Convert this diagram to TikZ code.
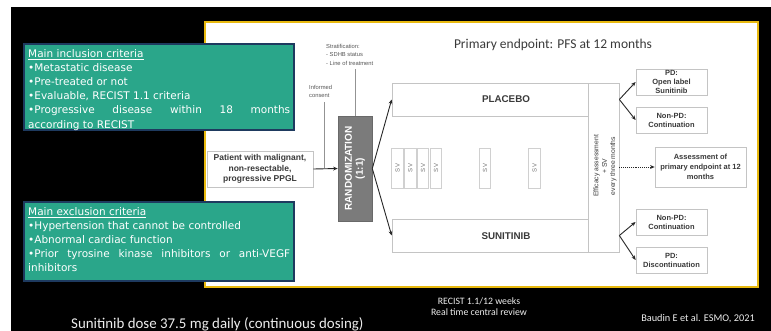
\documentclass[tikz,border=0pt]{standalone}
\usepackage{fontspec}
\setmainfont{Liberation Sans}
\newfontfamily\slidefont{Carlito}
\newfontfamily\critfont{DejaVu Sans}
\usetikzlibrary{arrows.meta}

\definecolor{critgreen}{HTML}{2AA68A}
\definecolor{critedge}{HTML}{1E3A5F}
\definecolor{frameyellow}{HTML}{E8B90F}
\definecolor{ink}{HTML}{3A3A3A}
\definecolor{boxline}{HTML}{C4C4C4}
\definecolor{randgray}{HTML}{7B7B7B}
\definecolor{slidewhite}{HTML}{EDEDED}

\tikzset{
  critbox/.style={draw=critedge, line width=1.6pt, fill=critgreen, anchor=north west, inner sep=0},
  crittext/.style={text=white, anchor=north west, inner sep=0, text width=262pt, align=justify,
                   font=\critfont\fontsize{10.5}{14.2}\selectfont},
  armbox/.style={draw=boxline, line width=0.7pt, inner sep=0},
  armlabel/.style={text=ink, font=\bfseries\fontsize{9.8}{11}\selectfont},
  outbox/.style={draw=boxline, line width=0.8pt, inner sep=0, align=center, text=ink,
                 font=\bfseries\fontsize{7.5}{9}\selectfont},
  svbox/.style={draw=boxline!80, line width=0.6pt, minimum width=11.5pt, minimum height=40pt, inner sep=0},
  svlabel/.style={rotate=90, text=ink!70, font=\fontsize{6}{7}\selectfont},
  smallnote/.style={anchor=north west, inner sep=0, align=left, text=ink!85,
                    font=\fontsize{5.8}{8.5}\selectfont},
  conn/.style={draw=black!85, line width=0.9pt, -{Stealth[length=4.5pt,width=3.8pt]}},
  thinline/.style={draw=ink!55, line width=0.6pt},
  caption/.style={text=slidewhite, inner sep=0}
}

\begin{document}
\begin{tikzpicture}[x=1pt, y=-1pt]
\useasboundingbox (0,0) rectangle (771,331);
% slide background
\fill[white] (0,0) rectangle (771,331);
\fill[black] (11,7) rectangle (771,331);
% framed panel holding the trial scheme
\draw[frameyellow, line width=2.2pt, fill=white] (205,22) rectangle (758,287);

\node[text=ink, font=\slidefont\fontsize{13.5}{16}\selectfont] (title) at (553,45)
  {Primary endpoint: PFS at 12 months};

% criteria boxes
\node[critbox, minimum width=270pt, minimum height=86pt] (incl) at (23,43) {};
\node[crittext] (incltext) at (28,49) {%
  \underline{Main inclusion criteria}\\
  •Metastatic disease\\
  •Pre-treated or not\\
  •Evaluable, RECIST 1.1 criteria\\
  •Progressive disease within 18 months\linebreak
  according to RECIST};

\node[critbox, minimum width=270pt, minimum height=79pt] (excl) at (23,201) {};
\node[crittext] (excltext) at (28,207) {%
  \underline{Main exclusion criteria}\\
  •Hypertension that cannot be controlled\\
  •Abnormal cardiac function\\
  •Prior tyrosine kinase inhibitors or anti-VEGF\linebreak
  inhibitors};

% enrolment and randomisation
\node[outbox, minimum width=106pt, minimum height=36pt, font=\bfseries\fontsize{8.5}{10.5}\selectfont]
  (patient) at (260,169) {Patient with malignant,\\non-resectable,\\progressive PPGL};
\node[fill=randgray, draw=randgray!85!black, line width=0.6pt, minimum width=34pt, minimum height=105pt, inner sep=0]
  (rand) at (355,168.5) {};
\node[rotate=90, text=white, align=center, inner sep=0, font=\bfseries\fontsize{10}{11}\selectfont]
  (randtxt) at (rand.center) {RANDOMIZATION\\(1:1)};

\node[smallnote] (strat) at (326,44) {Stratification:\\- SDHB status\\- Line of treatment};
\node[smallnote] (consent) at (309,85) {Informed\\consent};
\coordinate (join) at (324,168.5);

\draw[thinline] (rand.north) -- ([yshift=-3pt]rand.north |- strat.south);
\draw[thinline] ([yshift=-4pt]consent.south -| join) -- (join);
\draw[conn] (patient.east) -- (rand.west);

% treatment arms
\node[armbox, minimum width=196pt, minimum height=33pt] (placebo) at (490,99.5) {};
\node[armlabel] (placebotxt) at (506,99.5) {PLACEBO};
\node[armbox, minimum width=196pt, minimum height=33pt] (sunit) at (490,235.5) {};
\node[armlabel] (sunittxt) at (506,236) {SUNITINIB};
\node[armbox, minimum width=31pt, minimum height=169pt] (eff) at (603.5,167.5) {};
\node[rotate=90, align=center, inner sep=0, text=ink, font=\fontsize{6.8}{8.3}\selectfont]
  (efftxt) at (605,166) {Efficacy assessment\\+ SV\\every three months};

\draw[conn] (rand.east) -- (placebo.west);
\draw[conn] (rand.east) -- (sunit.west);

% safety visits
\foreach \n/\xx in {a/397.5, b/410.2, c/423, d/436, e/485, f/534.5}{
  \node[svbox] (sv\n) at (\xx,168) {};
  \node[svlabel] (svt\n) at (sv\n.center) {SV};
}

% outcomes
\node[outbox, minimum width=71pt, minimum height=26pt] (pdtop) at (671.5,82) {PD:\\Open label\\Sunitinib};
\node[outbox, minimum width=71pt, minimum height=26pt] (npdtop) at (671.5,120) {Non-PD:\\Continuation};
\node[outbox, minimum width=91pt, minimum height=40pt, font=\bfseries\fontsize{7.5}{9.8}\selectfont]
  (assess) at (700.5,167) {Assessment of\\primary endpoint at 12\\months};
\node[outbox, minimum width=71pt, minimum height=26pt] (npdbot) at (671.5,222) {Non-PD:\\Continuation};
\node[outbox, minimum width=71pt, minimum height=26pt] (pdbot) at (671.5,260) {PD:\\Discontinuation};

\draw[conn] (eff.east |- placebo.center) -- (pdtop.west);
\draw[conn] (eff.east |- placebo.center) -- (npdtop.west);
\draw[conn] (eff.east |- sunit.center) -- (npdbot.west);
\draw[conn] (eff.east |- sunit.center) -- (pdbot.west);
\draw[conn, densely dotted] (eff.east |- assess.west) -- (assess.west);

% footer
\node[caption, align=center, font=\slidefont\fontsize{9.8}{10.5}\selectfont] (recist) at (479,306.5)
  {RECIST 1.1/12 weeks\\Real time central review};
\node[caption, anchor=base west, font=\slidefont\fontsize{14.9}{17}\selectfont] (dose) at (71,328)
  {Sunitinib dose 37.5 mg daily (continuous dosing)};
\node[caption, font=\slidefont\fontsize{10.3}{11}\selectfont] (ref) at (698,319)
  {Baudin E et al. ESMO, 2021};
\end{tikzpicture}
\end{document}
